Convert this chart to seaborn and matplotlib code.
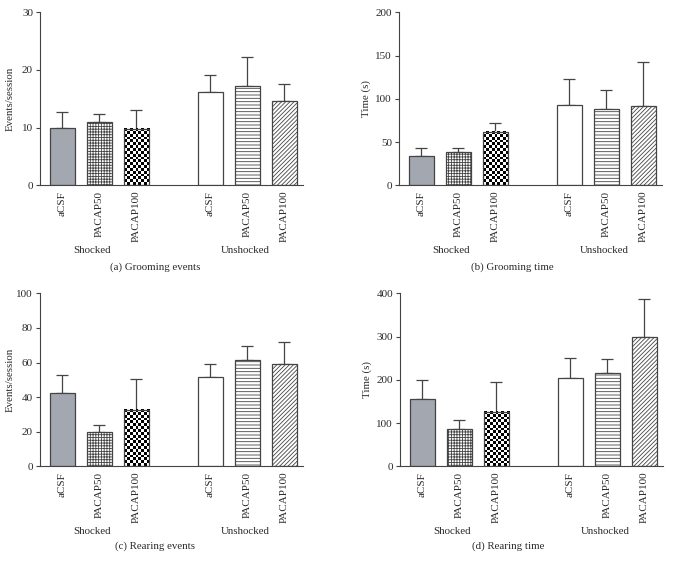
import numpy as np
import pandas as pd
import seaborn as sns
import matplotlib.pyplot as plt
from matplotlib.transforms import blended_transform_factory

sns.set_style('ticks')
plt.rcParams['font.family'] = ['Liberation Serif', 'DejaVu Serif']
plt.rcParams['hatch.linewidth'] = 0.6

# data (mean and upper error bar, SEM)
conditions = ['aCSF', 'PACAP50', 'PACAP100', 'aCSF', 'PACAP50', 'PACAP100']
groups = ['Shocked', 'Unshocked']

groom_events = [9.9, 11.0, 9.8, 16.2, 17.3, 14.6]
groom_events_err = [2.8, 1.4, 3.3, 2.9, 5.0, 3.0]

groom_time = [33.5, 38.2, 61.3, 92.5, 88.6, 91.7]
groom_time_err = [9.3, 4.6, 10.4, 30.0, 21.2, 50.5]

rear_events = [42.6, 20.0, 32.4, 51.6, 61.3, 59.3]
rear_events_err = [10.0, 4.1, 18.3, 7.4, 8.4, 12.4]

rear_time = [155.7, 85.8, 126.6, 204.0, 215.0, 298.0]
rear_time_err = [44.9, 21.2, 67.4, 47.5, 32.0, 88.0]

panels = [
    (groom_events, groom_events_err, 'Events/session', 30, 10, '(a) Grooming events'),
    (groom_time, groom_time_err, 'Time (s)', 200, 50, '(b) Grooming time'),
    (rear_events, rear_events_err, 'Events/session', 100, 20, '(c) Rearing events'),
    (rear_time, rear_time_err, 'Time (s)', 400, 100, '(d) Rearing time'),
]

# pixel layout of the 683x563 figure
W, H = 683, 563
ax_left = [40, 399, 40, 400]
ax_bottom = [185.3, 185.3, 466.3, 466.3]
ax_w, ax_h = 263, 173
caption_x = [155, 512, 155, 508]
caption_y = [266.7, 266.7, 546.5, 546.5]

x_pos = [0, 1, 2, 4, 5, 6]
line_col = '#444444'
text_col = '#2a2a2a'
bar_fill = ['#a3a7b0', 'white', 'none', 'white', 'white', 'white']
bar_hatch = [None, '++++++', None, None, '-----', '////////']

fig = plt.figure(figsize=(W / 100, H / 100), dpi=100)

for i, (mean, err, ylabel, ytop, ystep, caption) in enumerate(panels):
    ax = fig.add_axes([ax_left[i] / W, (H - ax_bottom[i]) / H, ax_w / W, ax_h / H])
    df = pd.DataFrame({'pos': x_pos, 'value': mean})
    sns.barplot(data=df, x='pos', y='value', native_scale=True, width=0.675,
                errorbar=None, color='white', ax=ax)
    ax.errorbar(x_pos, mean, yerr=[np.zeros(len(err)), err], fmt='none',
                ecolor=line_col, elinewidth=0.9, capsize=4.2, capthick=0.9, zorder=0.5)
    ax.set_xlim(-0.6, 6.5)
    ax.set_ylim(0, ytop)

    for j, patch in enumerate(ax.patches[:6]):
        patch.set_facecolor(bar_fill[j])
        patch.set_edgecolor(line_col)
        patch.set_linewidth(0.9)
        patch.set_zorder(1)
        if bar_hatch[j]:
            patch.set_hatch(bar_hatch[j])

    # checkerboard texture for shocked PACAP100
    chk = ax.patches[2]
    x0, w, h = chk.get_x(), chk.get_width(), chk.get_height()
    px_w = w * ax_w / 7.1
    px_h = h * ax_h / ytop
    ncols = 9
    nrows = max(1, int(round(px_h / (px_w / ncols))))
    board = np.add.outer(np.arange(nrows), np.arange(ncols)) % 2
    ax.imshow(board, cmap='binary', extent=(x0, x0 + w, 0, h),
              origin='lower', aspect='auto', interpolation='nearest',
              clip_path=chk, zorder=0.9)
    ax.set_xlim(-0.6, 6.5)
    ax.set_ylim(0, ytop)

    sns.despine(ax=ax)
    for side in ['left', 'bottom']:
        ax.spines[side].set_color(line_col)
        ax.spines[side].set_linewidth(0.8)

    ax.set_yticks(np.arange(0, ytop + ystep / 2, ystep))
    ax.tick_params(axis='y', length=3, width=0.8, color=line_col, labelsize=8,
                   labelcolor=text_col, pad=2)
    ax.set_xticks(x_pos)
    ax.set_xticklabels(conditions, rotation=90, va='top')
    ax.tick_params(axis='x', length=0, labelsize=8, labelcolor=text_col, pad=4)

    ax.set_xlabel('')
    ax.set_ylabel(ylabel, fontsize=7.8, color=text_col)
    ax.yaxis.set_label_coords(-0.095 if ax_left[i] < 100 else -0.105, 0.5)

    trans = blended_transform_factory(ax.transData, ax.transAxes)
    for gx, g in zip([0.8, 4.95], groups):
        ax.text(gx, -0.375, g, transform=trans, ha='center', va='center',
                fontsize=7.8, color=text_col)

    fig.text(caption_x[i] / W, 1 - caption_y[i] / H, caption, ha='center', va='center',
             fontsize=7.8, color=text_col)

fig.savefig('out.png', dpi=100)
